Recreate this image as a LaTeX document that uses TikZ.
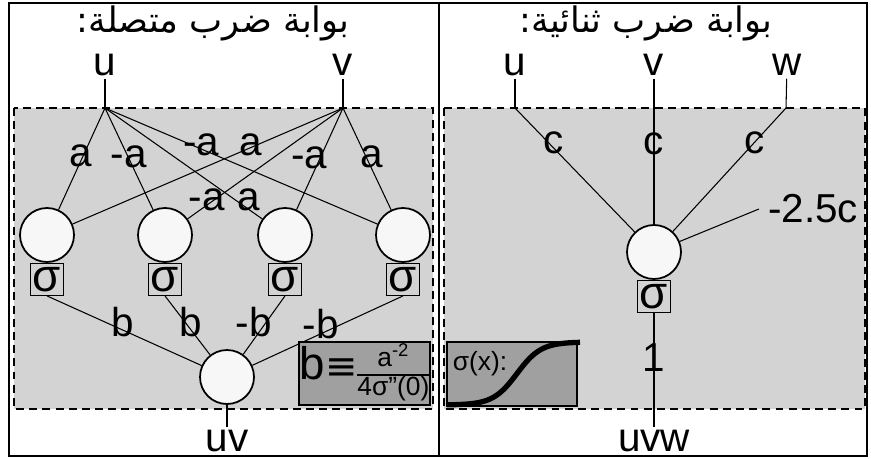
\documentclass[tikz,border=0pt]{standalone}
\usepackage{fontspec}
\setmainfont{Liberation Sans}
\newfontfamily\arabicfont[Script=Arabic]{DejaVu Sans}
\newfontfamily\symfont{DejaVu Sans}
\TeXXeTstate=1
\usetikzlibrary{positioning}
\definecolor{panelgray}{HTML}{D3D3D3}
\definecolor{boxgray}{HTML}{A0A0A0}
\definecolor{cellwhite}{HTML}{F7F7F7}
\tikzset{
	neuron/.style = {draw, circle, fill = cellwhite, minimum size = 1.08cm, inner sep = 0mm, line width = 1pt},
	sigbox/.style = {draw, rectangle, minimum width = 0.66cm, minimum height = 0.64cm, inner sep = 0mm, line width = 0.6pt, font = \fontsize{26}{26}\selectfont},
	var/.style = {font = \fontsize{23}{25}\selectfont, inner sep = 1.5pt},
	weight/.style = {font = \fontsize{23}{25}\selectfont, inner sep = 0mm},
	wire/.style = {line width = 0.6pt},
	heading/.style = {font = \arabicfont\fontsize{20}{23}\selectfont},
	region/.style = {draw, dashed, dash pattern = on 4.5pt off 3pt, fill = panelgray, line width = 1.1pt},
	greybox/.style = {draw, fill = boxgray, line width = 1pt, inner sep = 0mm}
}

\begin{document}
\begin{tikzpicture}[x = 0.02cm, y = -0.02cm]
	\useasboundingbox (0,0) rectangle (871,459);
	% frame and shaded areas
	\draw [line width = 0.9pt] (9,3) rectangle (867,456);
	\draw [line width = 0.9pt] (439,3) -- (439,456);
	\draw [region] (14,108) rectangle (433,409);
	\draw [region] (444,108) rectangle (865,409);

	\node [heading] (t1) at (213,23) {\beginR بوابة ضرب متصلة:\endR};
	\node [heading] (t2) at (646,23) {\beginR بوابة ضرب ثنائية:\endR};

	% continuous gate
	\node [var] (u) at (105,65) {u};
	\node [var] (v) at (343,65) {v};
	\coordinate (uf) at (105,108);
	\coordinate (vf) at (343,108);
	\draw [wire] (u) -- (uf);
	\draw [wire] (v) -- (vf);

	\foreach\i/\x in {1/47,2/165,3/285,4/403}{
		\node [neuron] (h\i) at (\x,235) {};
		\node [sigbox, below = 0mm of h\i] (s\i) {σ};
	}

	\foreach\src/\dst/\w/\p/\dx in {uf/h1/a/.467/-.06cm, uf/h2/-a/.475/.02cm, uf/h3/a/.832/.26cm, uf/h4/-a/.317/.2cm,
		vf/h1/a/.317/-.14cm, vf/h2/-a/.833/-.14cm, vf/h3/-a/.486/-.22cm, vf/h4/a/.475/.12cm}{
		\draw [wire] (\src) -- (\dst) node [weight, pos = \p, xshift = \dx] (l\src\dst) {\w};
	}

	\node [neuron] (o) at (227,377) {};
	\node [var] (uv) at (227,441) {uv};
	\draw [wire] (o) -- (uv);
	\foreach\i/\w/\p/\dx/\dy in {1/b/.487/0cm/.16cm, 2/b/.44/.12cm/0cm, 3/-b/.445/-.25cm/0cm, 4/-b/.546/0cm/.2cm}{
		\draw [wire] (s\i.south) -- (o) node [weight, pos = \p, xshift = \dx, yshift = \dy] (lb\i) {\w};
	}

	\node [greybox, minimum width = 2.62cm, minimum height = 1.26cm] (bdef) at (364.5,373.5)
		{{\fontsize{26}{26}\selectfont b}{\symfont\fontsize{22}{22}\selectfont ≡}\fontsize{15}{15}\selectfont\setlength{\arrayrulewidth}{1.1pt}\begin{tabular}{@{}c@{}}a\textsuperscript{-2}\\\hline 4σ”(0)\end{tabular}};

	% binary gate
	\node [greybox, minimum width = 2.6cm, minimum height = 1.28cm] (sg) at (512,374) {};
	\node [font = \fontsize{15}{15}\selectfont, inner sep = 0mm] (sgx) at (480,364) {σ(x):};
	\draw [line width = 3pt] plot [domain = 447:580, samples = 60] (\x, {405 - 63/(1 + exp(-(\x - 517)/12))});

	\node [var] (u2) at (515,65) {u};
	\node [var] (v2) at (654,65) {v};
	\node [var] (w2) at (787,65) {w};
	\coordinate (uf2) at (515,108);
	\coordinate (wf2) at (786,108);
	\draw [wire] (u2) -- (uf2);
	\draw [wire] (w2) -- (wf2);

	\node [neuron] (n) at (654,252) {};
	\node [sigbox, below = 0mm of n] (sn) {σ};
	\node [var] (uvw) at (654,441) {uvw};
	\node [weight, inner sep = 5pt] (k) at (813,209) {-2.5c};

	\draw [wire] (uf2) -- (n) node [weight, pos = .28, xshift = .1cm] (lc1) {c};
	\draw [wire] (v2) -- (n) node [weight, pos = .45] (lc2) {c};
	\draw [wire] (wf2) -- (n) node [weight, pos = .281] (lc3) {c};
	\draw [wire] (n) -- (k.west);
	\draw [wire] (sn) -- (uvw) node [weight, pos = .39] (lone) {1};
\end{tikzpicture}
\end{document}
